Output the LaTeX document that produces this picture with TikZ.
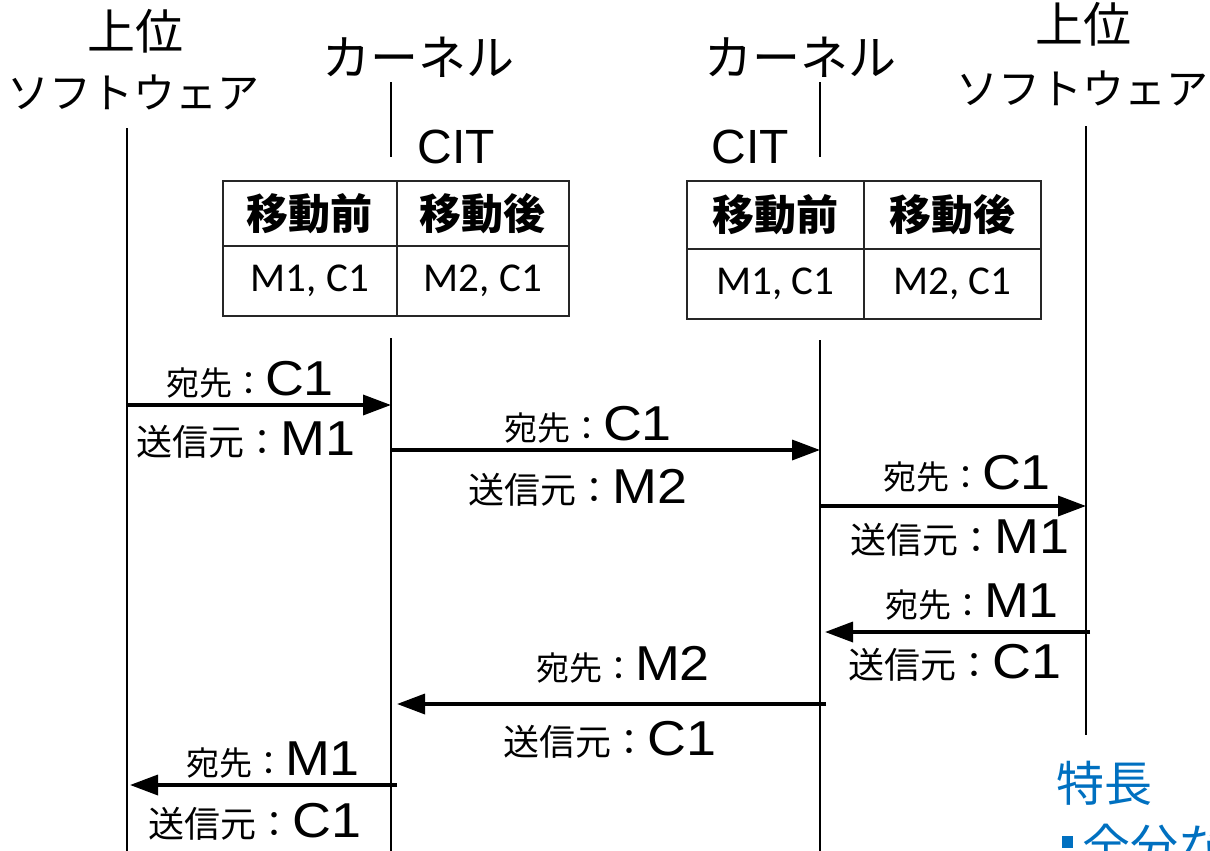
\documentclass[tikz,border=0pt]{standalone}
\usepackage{fontspec}
\setmainfont{Liberation Sans}
\newfontfamily\jp{Noto Sans CJK JP}
\newfontfamily\calfont{Carlito}
\usetikzlibrary{arrows.meta}
\definecolor{featblue}{RGB}{0,112,192}
\newcommand\msglab[3]{{\jp\fontsize{#1}{#1}\selectfont #2：}{\addfontfeature{FakeStretch=1.1}\fontsize{49}{49}\selectfont #3}}
\tikzset{
  life/.style={line width=2pt},
  msg/.style={line width=3.5pt,-{Triangle[length=28pt,width=20pt]}},
  cellbox/.style={draw=black!85,line width=1.6pt,inner sep=0pt,anchor=north west},
  headtxt/.style={font=\jp\bfseries\fontsize{42}{42}\selectfont},
  celltxt/.style={font=\calfont\fontsize{41}{41}\selectfont},
  ttl/.style={inner sep=0pt,font=\jp\fontsize{48}{48}\selectfont},
  lbl/.style={inner sep=0pt}
}
\begin{document}
\begin{tikzpicture}[x=1pt,y=-1pt]
\useasboundingbox (0,0) rectangle (1210,851);
\clip (0,0) rectangle (1210,851);
% titles
\node[ttl] (ul1) at (135,31) {上位};
\node[ttl,font=\jp\fontsize{42}{42}\selectfont] (ul2) at (133,92) {ソフトウェア};
\node[ttl] (k1) at (418,57) {カーネル};
\node[ttl] (k2) at (800,57) {カーネル};
\node[ttl] (ur1) at (1083,24) {上位};
\node[ttl,font=\jp\fontsize{42}{42}\selectfont] (ur2) at (1082,88) {ソフトウェア};
\node[lbl,font=\fontsize{48}{48}\selectfont] (cit1) at (456,147) {CIT};
\node[lbl,font=\fontsize{48}{48}\selectfont] (cit2) at (750,147) {CIT};
% lifelines
\coordinate (Lt) at (127,128); \coordinate (Lb) at (127,851);
\coordinate (K1a) at (391,82); \coordinate (K1b) at (391,157);
\coordinate (K1t) at (391,338); \coordinate (K1e) at (391,851);
\coordinate (K2a) at (820,82); \coordinate (K2b) at (820,157);
\coordinate (K2t) at (820,340); \coordinate (K2e) at (820,851);
\coordinate (Rt) at (1086,126); \coordinate (Rb) at (1086,735);
\draw[life] (Lt) -- (Lb);
\draw[life] (K1a) -- (K1b);
\draw[life] (K1t) -- (K1e);
\draw[life] (K2a) -- (K2b);
\draw[life] (K2t) -- (K2e);
\draw[life] (Rt) -- (Rb);
% left table
\node[cellbox,minimum width=174pt,minimum height=65pt,headtxt] (t1a) at (222,180) {移動前};
\node[cellbox,minimum width=172pt,minimum height=65pt,headtxt] (t1b) at (396,180) {移動後};
\node[cellbox,minimum width=174pt,minimum height=70pt,celltxt] (t1c) at (222,245) {M1, C1};
\node[cellbox,minimum width=172pt,minimum height=70pt,celltxt] (t1d) at (396,245) {M2, C1};
% right table
\node[cellbox,minimum width=177pt,minimum height=68pt,headtxt] (t2a) at (686,180) {移動前};
\node[cellbox,minimum width=177pt,minimum height=68pt,headtxt] (t2b) at (863,180) {移動後};
\node[cellbox,minimum width=177pt,minimum height=70pt,celltxt] (t2c) at (686,248) {M1, C1};
\node[cellbox,minimum width=177pt,minimum height=70pt,celltxt] (t2d) at (863,248) {M2, C1};
% message endpoints
\coordinate (m1s) at (127,405); \coordinate (m1e) at (391,405);
\coordinate (m2s) at (391,450); \coordinate (m2e) at (820,450);
\coordinate (m3s) at (820,506); \coordinate (m3e) at (1086,506);
\coordinate (m4s) at (1090,632); \coordinate (m4e) at (825,632);
\coordinate (m5s) at (826,704); \coordinate (m5e) at (397,704);
\coordinate (m6s) at (397,785); \coordinate (m6e) at (130,785);
\draw[msg] (m1s) -- (m1e);
\draw[msg] (m2s) -- (m2e);
\draw[msg] (m3s) -- (m3e);
\draw[msg] (m4s) -- (m4e);
\draw[msg] (m5s) -- (m5e);
\draw[msg] (m6s) -- (m6e);
% message labels
\node[lbl] (l1a) at (250,380) {\msglab{33}{宛先}{C1}};
\node[lbl] (l1b) at (246,440) {\msglab{36}{送信元}{M1}};
\node[lbl] (l2a) at (588,425) {\msglab{33}{宛先}{C1}};
\node[lbl] (l2b) at (578,488) {\msglab{36}{送信元}{M2}};
\node[lbl] (l3a) at (967,474) {\msglab{33}{宛先}{C1}};
\node[lbl] (l3b) at (960,538) {\msglab{36}{送信元}{M1}};
\node[lbl] (l4a) at (972,602) {\msglab{33}{宛先}{M1}};
\node[lbl] (l4b) at (955,663) {\msglab{36}{送信元}{C1}};
\node[lbl] (l5a) at (623,665) {\msglab{33}{宛先}{M2}};
\node[lbl] (l5b) at (610,740) {\msglab{36}{送信元}{C1}};
\node[lbl] (l6a) at (273,760) {\msglab{33}{宛先}{M1}};
\node[lbl] (l6b) at (255,822) {\msglab{36}{送信元}{C1}};
% feature text
\node[lbl,anchor=west,text=featblue,font=\jp\fontsize{48}{48}\selectfont] (feat) at (1056,783) {特長};
\fill[featblue] (1062,836) rectangle (1073,848);
\node[lbl,anchor=base west,text=featblue,font=\jp\fontsize{48}{48}\selectfont] (feat2) at (1082,864) {全分な};
\end{tikzpicture}
\end{document}
